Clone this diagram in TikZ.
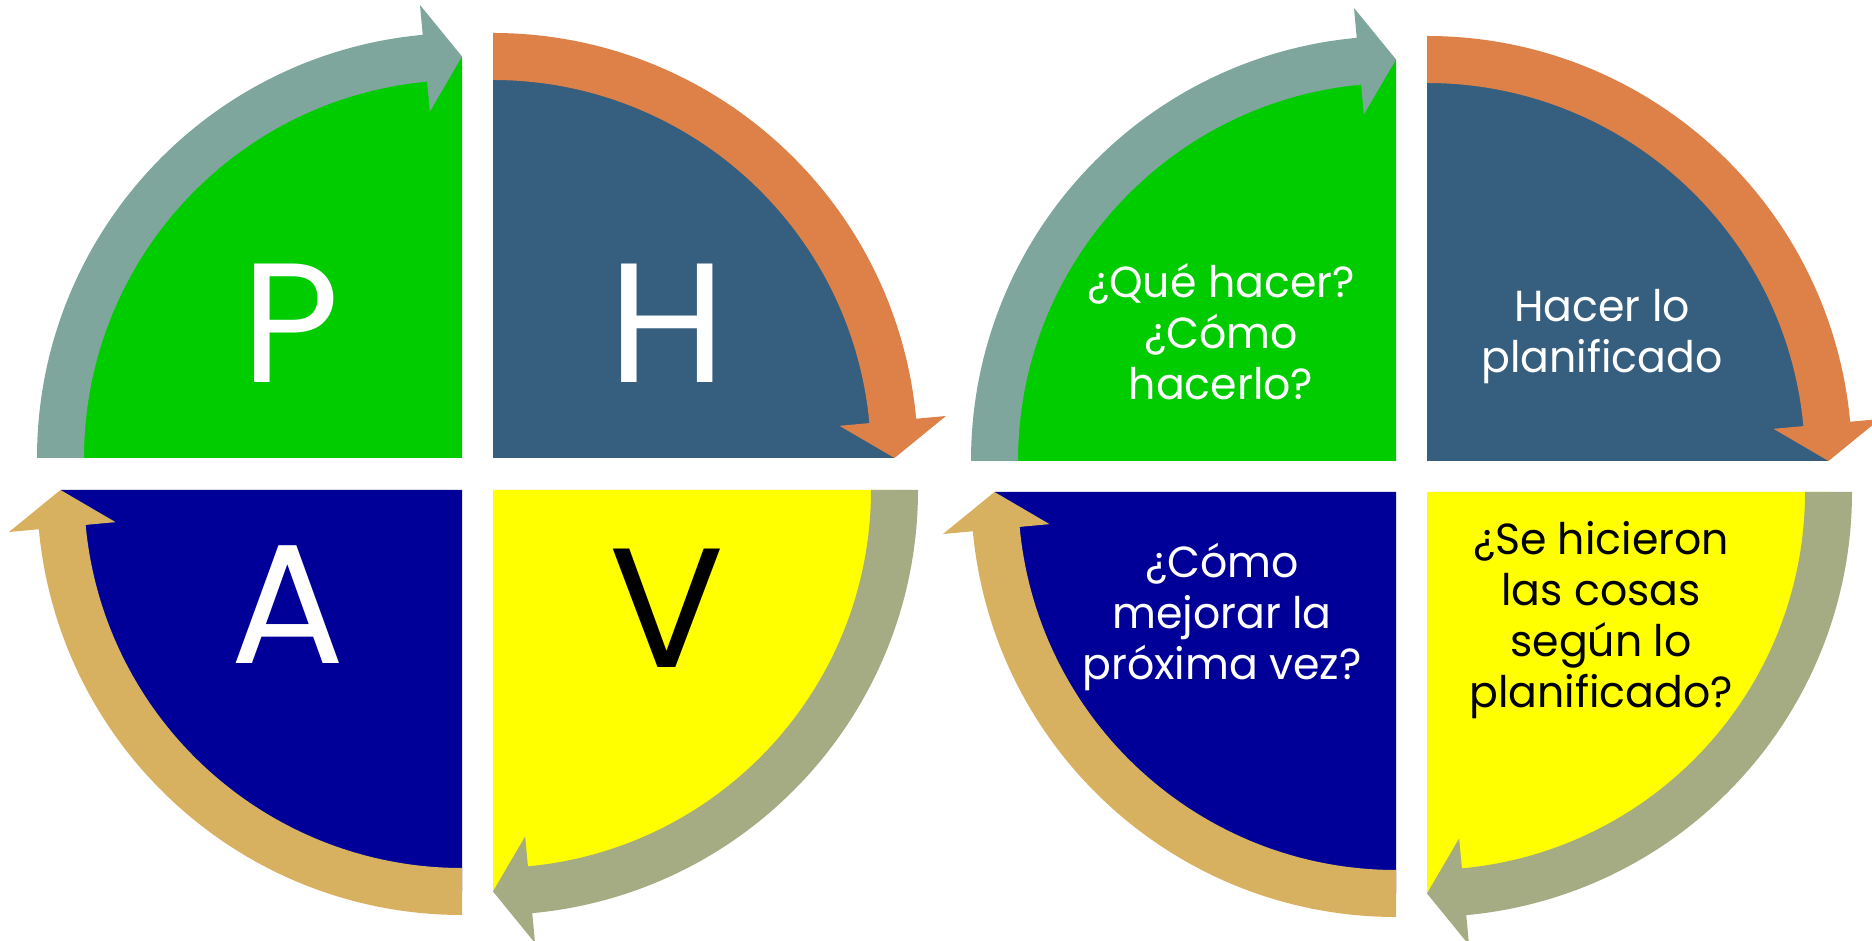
\documentclass[tikz,border=0pt]{standalone}
\usepackage{fontspec}
\setmainfont{Poppins}
\newfontfamily\phrasefont[FakeStretch=0.98]{Poppins}
\usetikzlibrary{calc}
\definecolor{cgreen}{RGB}{0,204,0}
\definecolor{cslate}{RGB}{54,94,126}
\definecolor{cnavy}{RGB}{0,0,153}
\definecolor{cyel}{RGB}{255,255,0}
\definecolor{cteal}{RGB}{126,166,156}
\definecolor{corange}{RGB}{221,129,73}
\definecolor{ctan}{RGB}{216,177,96}
\definecolor{colive}{RGB}{165,171,130}
% #1 corner, #2 start angle of the pie (counter-clockwise), #3 colour
\newcommand\pdcaPie[3]{%
  \fill[#3] (#1) -- ($(#1)+(#2:401)$) arc[start angle=#2, end angle=#2+90, radius=401] -- cycle;}
% #1 corner, #2 tail angle, #3 colour ; arrow runs clockwise by 90 degrees
\newcommand\pdcaArrow[3]{%
  \fill[#3] ($(#1)+(#2:378)$) -- ($(#1)+(#2:425)$)
    arc[start angle=#2, end angle=#2-84.7, radius=425]
    -- ($(#1)+({#2-84.7}:455)$) -- ($(#1)+({#2-90}:401.5)$) -- ($(#1)+({#2-84.7}:348)$)
    -- ($(#1)+({#2-84.7}:378)$)
    arc[start angle=#2-84.7, end angle=#2, radius=378] -- cycle;}
\tikzset{
  bigletter/.style={anchor=base, inner sep=0pt, font=\fontsize{170}{170}\selectfont},
  phrase/.style={anchor=base, inner sep=0pt, align=center, font=\phrasefont\fontsize{43.5}{51}\selectfont}
}
\begin{document}
\begin{tikzpicture}[x=1pt,y=1pt]
\useasboundingbox (0,0) rectangle (1872,941);
% left cycle corners
\coordinate (lP) at (462,483);
\coordinate (lH) at (493,483);
\coordinate (lA) at (462,451);
\coordinate (lV) at (493,451);
% right cycle corners
\coordinate (rP) at (1396,480);
\coordinate (rH) at (1427,480);
\coordinate (rA) at (1396,449);
\coordinate (rV) at (1427,449);
% pies
\pdcaPie{lP}{90}{cgreen}
\pdcaPie{lH}{0}{cslate}
\pdcaPie{lA}{180}{cnavy}
\pdcaPie{lV}{270}{cyel}
\pdcaPie{rP}{90}{cgreen}
\pdcaPie{rH}{0}{cslate}
\pdcaPie{rA}{180}{cnavy}
\pdcaPie{rV}{270}{cyel}
% arrows
\pdcaArrow{lP}{180}{cteal}
\pdcaArrow{lH}{90}{corange}
\pdcaArrow{lV}{360}{colive}
\pdcaArrow{lA}{270}{ctan}
\pdcaArrow{rP}{180}{cteal}
\pdcaArrow{rH}{90}{corange}
\pdcaArrow{rV}{360}{colive}
\pdcaArrow{rA}{270}{ctan}
% letters
\node[bigletter, text=white] (tP) at (291,558) {P};
\node[bigletter, text=white] (tH) at (667,558) {H};
\node[bigletter, text=white] (tA) at (288,277) {A};
\node[bigletter, text=black] (tV) at (667,273) {V};
% phrases (anchor = baseline of the last line)
\node[phrase, text=white] (qP) at (1221,541) {¿Qué hacer?\\¿Cómo\\hacerlo?};
\node[phrase, text=white] (qH) at (1602,568) {Hacer lo\\planificado};
\node[phrase, text=white] (qA) at (1222,261) {¿Cómo\\mejorar la\\próxima vez?};
\node[phrase, text=black] (qV) at (1601,233) {¿Se hicieron\\las cosas\\según lo\\planificado?};
\end{tikzpicture}
\end{document}
